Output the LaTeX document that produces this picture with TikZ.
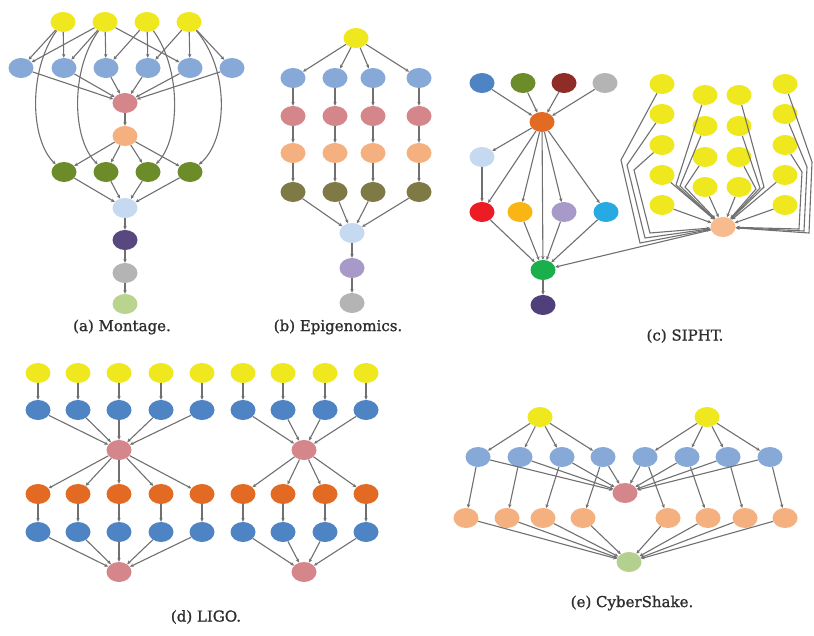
\documentclass[tikz,border=0pt]{standalone}
\usepackage{fontspec}
\setmainfont{DejaVu Serif}
\newfontfamily\capfont{DejaVu Serif}[FakeBold=1.2]
\usetikzlibrary{shapes.geometric,arrows.meta}
\definecolor{cyel}{RGB}{240,232,30}
\definecolor{cltb}{RGB}{134,169,216}
\definecolor{cpink}{RGB}{212,134,138}
\definecolor{cpeach}{RGB}{245,176,127}
\definecolor{colive}{RGB}{108,140,42}
\definecolor{cpale}{RGB}{197,217,241}
\definecolor{cpurp}{RGB}{88,72,128}
\definecolor{cgray}{RGB}{180,180,180}
\definecolor{clgreen}{RGB}{184,212,142}
\definecolor{cbrown}{RGB}{127,122,69}
\definecolor{clav}{RGB}{168,154,200}
\definecolor{cblue}{RGB}{79,132,196}
\definecolor{cdred}{RGB}{142,45,39}
\definecolor{corange}{RGB}{226,106,34}
\definecolor{cred}{RGB}{237,28,36}
\definecolor{camber}{RGB}{249,181,20}
\definecolor{ccyan}{RGB}{39,169,225}
\definecolor{cgreen}{RGB}{25,176,75}
\definecolor{cdpurp}{RGB}{79,63,122}
\definecolor{cspeach}{RGB}{247,187,141}
\definecolor{ccsgreen}{RGB}{179,208,143}
\definecolor{cedge}{RGB}{112,112,112}
\tikzset{
  nd/.style={ellipse, minimum width=25pt, minimum height=20pt, inner sep=0pt, draw=none, fill=#1},
  edge/.style={draw=cedge, line width=1.1pt, -{Stealth[length=3.8pt,width=3.4pt]}},
  captxt/.style={font=\capfont\fontsize{15}{17}\selectfont, text=black!82}
}
\begin{document}
\begin{tikzpicture}[x=1pt,y=-1pt]
\useasboundingbox (0,0) rectangle (814,635);
\fill[white] (0,0) rectangle (814,635);
% ================= (a) Montage =================
\foreach \i/\x in {1/63,2/105,3/147,4/189} \node[nd=cyel] (my\i) at (\x,22) {};
\foreach \i/\x in {1/21,2/64,3/106,4/148,5/190,6/232} \node[nd=cltb] (mb\i) at (\x,68) {};
\node[nd=cpink] (mp) at (125,103) {};
\node[nd=cpeach] (mo) at (125,136) {};
\foreach \i/\x in {1/64,2/106,3/148,4/190} \node[nd=colive] (mg\i) at (\x,172) {};
\node[nd=cpale] (ml) at (125,208) {};
\node[nd=cpurp] (mu) at (125,240) {};
\node[nd=cgray] (ma) at (125,273) {};
\node[nd=clgreen] (mz) at (125,304) {};
\foreach \a/\b in {1/1,1/2,2/1,2/2,2/3,2/5,3/3,3/4,4/4,4/5,4/6} \draw[edge] (my\a) -- (mb\b);
\foreach \b in {1,...,6} \draw[edge] (mb\b) -- (mp);
\draw[edge] (mp) -- (mo);
\foreach \g in {1,...,4} \draw[edge] (mo) -- (mg\g);
\draw[edge] (my1) .. controls (28,70) and (30,140) .. (mg1);
\draw[edge] (my2) .. controls (70,70) and (72,140) .. (mg2);
\draw[edge] (my3) .. controls (182,70) and (180,140) .. (mg3);
\draw[edge] (my4) .. controls (230,70) and (228,140) .. (mg4);
\foreach \g in {1,...,4} \draw[edge] (mg\g) -- (ml);
\draw[edge] (ml) -- (mu);
\draw[edge] (mu) -- (ma);
\draw[edge] (ma) -- (mz);
\node[captxt] (capa) at (122,327) {(a) Montage.};
% ================= (b) Epigenomics =================
\node[nd=cyel] (ey) at (356,38) {};
\foreach \i/\x in {1/293,2/335,3/373,4/419} {
  \node[nd=cltb] (eb\i) at (\x,78) {};
  \node[nd=cpink] (ep\i) at (\x,116) {};
  \node[nd=cpeach] (eo\i) at (\x,153) {};
  \node[nd=cbrown] (en\i) at (\x,192) {};
}
\node[nd=cpale] (el) at (352,233) {};
\node[nd=clav] (ev) at (352,268) {};
\node[nd=cgray] (ea) at (352,303) {};
\foreach \i in {1,...,4} {
  \draw[edge] (ey) -- (eb\i);
  \draw[edge] (eb\i) -- (ep\i);
  \draw[edge] (ep\i) -- (eo\i);
  \draw[edge] (eo\i) -- (en\i);
  \draw[edge] (en\i) -- (el);
}
\draw[edge] (el) -- (ev);
\draw[edge] (ev) -- (ea);
\node[captxt] (capb) at (338,327) {(b) Epigenomics.};
% ================= (c) SIPHT =================
\node[nd=cblue] (t1) at (482,83) {};
\node[nd=colive] (t2) at (523,83) {};
\node[nd=cdred] (t3) at (564,83) {};
\node[nd=cgray] (t4) at (605,83) {};
\node[nd=corange] (so) at (542,122) {};
\node[nd=cpale] (sl) at (482,157) {};
\node[nd=cred] (r1) at (482,212) {};
\node[nd=camber] (r2) at (520,212) {};
\node[nd=clav] (r3) at (564,212) {};
\node[nd=ccyan] (r4) at (606,212) {};
\node[nd=cgreen] (sg) at (543,270) {};
\node[nd=cdpurp] (su) at (543,305) {};
\node[nd=cspeach] (pe) at (723,227) {};
\foreach \i in {1,...,4} \draw[edge] (t\i) -- (so);
\draw[edge] (so) -- (sl);
\draw[edge] (sl) -- (r1);
\foreach \i in {1,...,4} \draw[edge] (so) -- (r\i);
\draw[edge] (so) -- (sg);
\foreach \i in {1,...,4} \draw[edge] (r\i) -- (sg);
\draw[edge] (sg) -- (su);
\draw[edge] (pe) -- (sg);
\foreach \i/\y in {a/84,b/114,c/145,d/175,e/205} {
  \node[nd=cyel] (s1\i) at (662,\y) {};
  \node[nd=cyel] (s4\i) at (785,\y) {};
}
\foreach \i/\y in {a/95,b/126,c/157,d/187} {
  \node[nd=cyel] (s2\i) at (705,\y) {};
  \node[nd=cyel] (s3\i) at (739,\y) {};
}
\draw[edge] (s1a) -- (621,160) -- (640,243) -- (pe);
\draw[edge] (s1b) -- (627,165) -- (645,238) -- (pe);
\draw[edge] (s1c) -- (634,170) -- (650,233) -- (pe);
\draw[edge] (s1d) -- (pe);
\draw[edge] (s1e) -- (pe);
\draw[edge] (s2a) -- (676,185) -- (pe);
\draw[edge] (s2b) -- (680,186) -- (pe);
\draw[edge] (s2c) -- (685,187) -- (pe);
\draw[edge] (s2d) -- (pe);
\draw[edge] (s3a) -- (764,187) -- (pe);
\draw[edge] (s3b) -- (760,188) -- (pe);
\draw[edge] (s3c) -- (756,189) -- (pe);
\draw[edge] (s3d) -- (pe);
\draw[edge] (s4a) -- (812,162) -- (809,233) -- (pe);
\draw[edge] (s4b) -- (807,167) -- (804,231) -- (pe);
\draw[edge] (s4c) -- (802,172) -- (799,229) -- (pe);
\draw[edge] (s4d) -- (pe);
\draw[edge] (s4e) -- (pe);
\node[captxt] (capc) at (685,336) {(c) SIPHT.};
% ================= (d) LIGO =================
\foreach \i/\x in {1/38,2/78,3/119,4/161,5/202,6/243,7/283,8/325,9/366} {
  \node[nd=cyel] (ly\i) at (\x,373) {};
  \node[nd=cblue] (lb\i) at (\x,410) {};
  \node[nd=corange] (lo\i) at (\x,494) {};
  \node[nd=cblue] (lc\i) at (\x,532) {};
  \draw[edge] (ly\i) -- (lb\i);
  \draw[edge] (lo\i) -- (lc\i);
}
\node[nd=cpink] (lp1) at (119,450) {};
\node[nd=cpink] (lp2) at (304,450) {};
\node[nd=cpink] (lq1) at (119,572) {};
\node[nd=cpink] (lq2) at (304,572) {};
\foreach \i in {1,...,5} {
  \draw[edge] (lb\i) -- (lp1);
  \draw[edge] (lp1) -- (lo\i);
  \draw[edge] (lc\i) -- (lq1);
}
\foreach \i in {6,...,9} {
  \draw[edge] (lb\i) -- (lp2);
  \draw[edge] (lp2) -- (lo\i);
  \draw[edge] (lc\i) -- (lq2);
}
\node[captxt] (capd) at (206,617) {(d) LIGO.};
% ================= (e) CyberShake =================
\node[nd=cyel] (cy1) at (540,417) {};
\node[nd=cyel] (cy2) at (707,417) {};
\foreach \i/\x in {1/478,2/520,3/562,4/603,5/645,6/687,7/728,8/770} \node[nd=cltb] (cb\i) at (\x,457) {};
\foreach \i/\x in {1/466,2/507,3/543,4/583,5/668,6/708,7/745,8/785} \node[nd=cpeach] (co\i) at (\x,518) {};
\node[nd=cpink] (cp) at (625,493) {};
\node[nd=ccsgreen] (cg) at (629,562) {};
\foreach \i in {1,...,4} \draw[edge] (cy1) -- (cb\i);
\foreach \i in {5,...,8} \draw[edge] (cy2) -- (cb\i);
\foreach \i in {1,...,8} {
  \draw[edge] (cb\i) -- (cp);
  \draw[edge] (cb\i) -- (co\i);
  \draw[edge] (co\i) -- (cg);
}
\node[captxt] (cape) at (632,603) {(e) CyberShake.};
\end{tikzpicture}
\end{document}
